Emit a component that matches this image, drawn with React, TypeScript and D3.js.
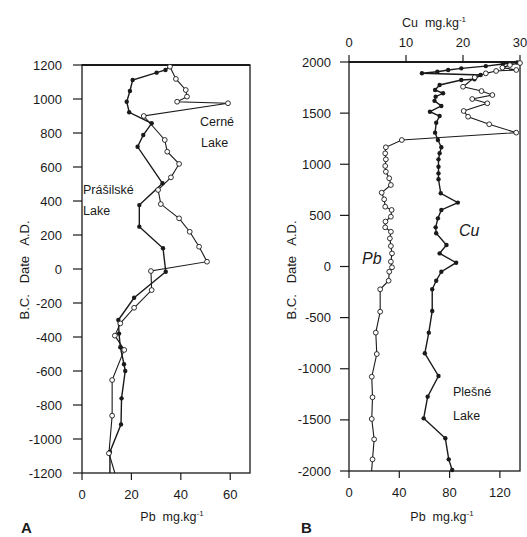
import React from "react";
import * as d3 from "d3";

// Panel A — Pb (mg/kg) vs date
const cerneYears = [1190, 1118, 1053, 1014, 984, 975, 900, 759, 690, 618, 539, 465, 382, 298, 219, 131, 43, -12, -124, -228, -320, -392, -476, -653, -863, -1084, -1200];
const cernePb = [35.6, 38, 42, 42.5, 38.5, 59.1, 25, 33.5, 34.5, 39.3, 36, 30.8, 31.9, 39.3, 43.6, 47.4, 50.6, 27.9, 28.2, 21.1, 15.5, 13.3, 17.1, 12.2, 12.2, 10.9, 13.3];
const prasYears = [1200, 1171, 1155, 1112, 1047, 984, 922, 857, 788, 719, 504, 376, 249, 122, -16, -169, -300, -380, -460, -560, -600, -761, -914, -1076, -1200];
const prasPb = [36, 33.8, 30.2, 20.5, 19.4, 18.1, 19.1, 28.2, 24.8, 22.5, 32.6, 23.2, 23.2, 32.8, 33.9, 21.1, 14.7, 15, 15.5, 17, 17.5, 16, 15.8, 11.3, 11.3];
const aYTicks = [1200, 1000, 800, 600, 400, 200, 0, -200, -400, -600, -800, -1000, -1200];
const aXTicks = [0, 20, 40, 60];

// Panel B — Plešné Lake, Pb (bottom axis) and Cu (top axis)
const plesPbYears = [-2000, -1886, -1690, -1491, -1279, -1078, -856, -647, -442, -223, -139, -51, -8, 47, 128, 200, 275, 340, 383, 440, 487, 553, 585, 657, 722, 797, 863, 927, 983, 1048, 1107, 1166, 1237, 1309, 1391, 1465, 1521, 1596, 1638, 1677, 1716, 1758, 1850, 1889, 1912, 1922, 1945, 1970, 1990];
const plesPb = [18, 18.7, 20, 18.1, 18.7, 18.1, 22.1, 21.3, 24.8, 24.8, 31.5, 32, 34.2, 33.3, 34.2, 33.3, 32.5, 33.3, 28.8, 29, 33.3, 33.9, 28.8, 28, 26, 33.3, 32, 29.3, 28.8, 29.3, 28.8, 29.3, 42, 133, 111.5, 94.7, 91.2, 110, 98, 114, 105.4, 90.7, 100, 108.8, 117, 133, 122, 128, 136];
const plesCuYears = [-1990, -1886, -1680, -1485, -1273, -1071, -849, -647, -435, -223, -139, -51, 37, 128, 210, 325, 383, 471, 553, 625, 716, 853, 911, 976, 1048, 1107, 1166, 1237, 1309, 1406, 1472, 1514, 1570, 1620, 1661, 1694, 1726, 1775, 1824, 1831, 1873, 1890, 1905, 1922, 1938, 1960, 1980, 1995];
const plesCu = [18.1, 17.5, 16.9, 13.1, 13.8, 15.7, 13.3, 14.0, 14.6, 14.6, 15.3, 16.2, 18.8, 15.9, 17.1, 15.3, 15.2, 15.6, 16.2, 19.1, 16.1, 15.7, 15.7, 15.7, 15.7, 15.9, 16.2, 15.6, 15.1, 15.3, 15.9, 14.2, 16.2, 15.0, 15.2, 16.5, 15.1, 15.9, 19.7, 22, 23.1, 12.8, 15.5, 17.4, 19.7, 24, 27, 29.5];
const bYTicks = [2000, 1500, 1000, 500, 0, -500, -1000, -1500, -2000];
const bPbTicks = [0, 40, 80, 120];
const bCuTicks = [0, 10, 20, 30];

const FONT = "Liberation Sans, Arial, sans-serif";
const INK = "#1a1a1a";

export default function App() {
  // Panel A scales
  const xA = d3.scaleLinear().domain([0, 68]).range([82, 250]);
  const yA = d3.scaleLinear().domain([-1200, 1200]).range([473, 65]);
  // Panel B scales
  const yB = d3.scaleLinear().domain([-2000, 2000]).range([471, 62]);
  const xPb = d3.scaleLinear().domain([0, 136]).range([349, 520]);
  const xCu = d3.scaleLinear().domain([0, 30]).range([349, 520]);

  const cerne = cerneYears.map((y, i) => [xA(cernePb[i]), yA(y)] as [number, number]);
  const pras = prasYears.map((y, i) => [xA(prasPb[i]), yA(y)] as [number, number]);
  const pbB = plesPbYears.map((y, i) => [xPb(plesPb[i]), yB(y)] as [number, number]);
  const cuB = plesCuYears.map((y, i) => [xCu(plesCu[i]), yB(y)] as [number, number]);
  const line = d3.line();

  const open = (pts: [number, number][], key: string) =>
    pts.map((p, i) => <circle key={key + i} cx={p[0]} cy={p[1]} r={2.4} fill="#fff" stroke={INK} strokeWidth={0.9} />);
  const filled = (pts: [number, number][], key: string) =>
    pts.map((p, i) => <circle key={key + i} cx={p[0]} cy={p[1]} r={2.2} fill={INK} />);

  return (
    <svg width={527} height={537} style={{ position: "absolute", left: 0, top: 0, background: "#fff" }} fontFamily={FONT}>
      <rect width={527} height={537} fill="#fff" />
      {/* ---------- Panel A ---------- */}
      <g>
        <rect x={82} y={65} width={168} height={408} fill="none" stroke={INK} strokeWidth={1.3} />
        <line x1={82} x2={250} y1={65} y2={65} stroke={INK} strokeWidth={2} />
        {aYTicks.map((t) => (
          <g key={"ay" + t}>
            <line x1={73} x2={82} y1={yA(t)} y2={yA(t)} stroke={INK} strokeWidth={1.2} />
            <text x={62} y={yA(t)} dy="0.35em" textAnchor="end" fontSize={13} fill={INK}>{t}</text>
          </g>
        ))}
        {aXTicks.map((t) => (
          <g key={"ax" + t}>
            <line x1={xA(t)} x2={xA(t)} y1={473} y2={480} stroke={INK} strokeWidth={1.2} />
            <text x={xA(t)} y={499} textAnchor="middle" fontSize={13} fill={INK}>{t}</text>
          </g>
        ))}
        <path d={line(pras) || ""} fill="none" stroke={INK} strokeWidth={1.4} />
        <path d={line(cerne) || ""} fill="none" stroke={INK} strokeWidth={1.1} />
        {filled(pras.slice(1, -1), "pf")}
        {open(cerne.slice(0, -1), "co")}
        <text x={200} y={126} fontSize={12.5} fill={INK}>Cerné</text>
        <text x={201} y={147} fontSize={12.5} fill={INK}>Lake</text>
        <text x={83} y={194} fontSize={12.5} fill={INK}>Prášilské</text>
        <text x={83} y={215} fontSize={12.5} fill={INK}>Lake</text>
        <text transform="translate(29,270) rotate(-90)" textAnchor="middle" fontSize={13} fill={INK} xmlSpace="preserve">B.C.   Date   A.D.</text>
        <text x={172} y={521} textAnchor="middle" fontSize={12.5} fill={INK} xmlSpace="preserve">Pb  mg.kg<tspan dy={-5} fontSize={8}>-1</tspan></text>
        <text x={21} y={533} fontSize={15} fontWeight="bold" fill={INK}>A</text>
      </g>

      {/* ---------- Panel B ---------- */}
      <g>
        <rect x={349} y={62} width={171} height={409} fill="none" stroke={INK} strokeWidth={1.3} />
        <line x1={349} x2={520} y1={62} y2={62} stroke={INK} strokeWidth={2} />
        {bYTicks.map((t) => (
          <g key={"by" + t}>
            <line x1={340} x2={349} y1={yB(t)} y2={yB(t)} stroke={INK} strokeWidth={1.2} />
            <text x={331} y={yB(t)} dy="0.35em" textAnchor="end" fontSize={13} fill={INK}>{t}</text>
          </g>
        ))}
        {bPbTicks.map((t) => (
          <g key={"bx" + t}>
            <line x1={xPb(t)} x2={xPb(t)} y1={471} y2={478} stroke={INK} strokeWidth={1.2} />
            <text x={xPb(t)} y={497} textAnchor="middle" fontSize={13} fill={INK}>{t}</text>
          </g>
        ))}
        {bCuTicks.map((t) => (
          <g key={"bc" + t}>
            <line x1={xCu(t)} x2={xCu(t)} y1={55} y2={62} stroke={INK} strokeWidth={1.2} />
            <text x={xCu(t)} y={47} textAnchor="middle" fontSize={13} fill={INK}>{t}</text>
          </g>
        ))}
        <path d={line(cuB) || ""} fill="none" stroke={INK} strokeWidth={1.4} />
        <path d={line(pbB) || ""} fill="none" stroke={INK} strokeWidth={1.1} />
        {filled(cuB, "cf")}
        {open(pbB.slice(1), "po")}
        <text x={362} y={264} fontSize={16} fontStyle="italic" fill={INK}>Pb</text>
        <text x={459} y={236} fontSize={16} fontStyle="italic" fill={INK}>Cu</text>
        <text x={453} y={396} fontSize={12.5} fill={INK}>Plešné</text>
        <text x={453} y={420} fontSize={12.5} fill={INK}>Lake</text>
        <text transform="translate(296,270) rotate(-90)" textAnchor="middle" fontSize={13} fill={INK} xmlSpace="preserve">B.C.   Date   A.D.</text>
        <text x={434} y={27} textAnchor="middle" fontSize={12.5} fill={INK} xmlSpace="preserve">Cu  mg.kg<tspan dy={-5} fontSize={8}>-1</tspan></text>
        <text x={442} y={521} textAnchor="middle" fontSize={12.5} fill={INK} xmlSpace="preserve">Pb  mg.kg<tspan dy={-5} fontSize={8}>-1</tspan></text>
        <text x={301} y={533} fontSize={15} fontWeight="bold" fill={INK}>B</text>
      </g>
    </svg>
  );
}
